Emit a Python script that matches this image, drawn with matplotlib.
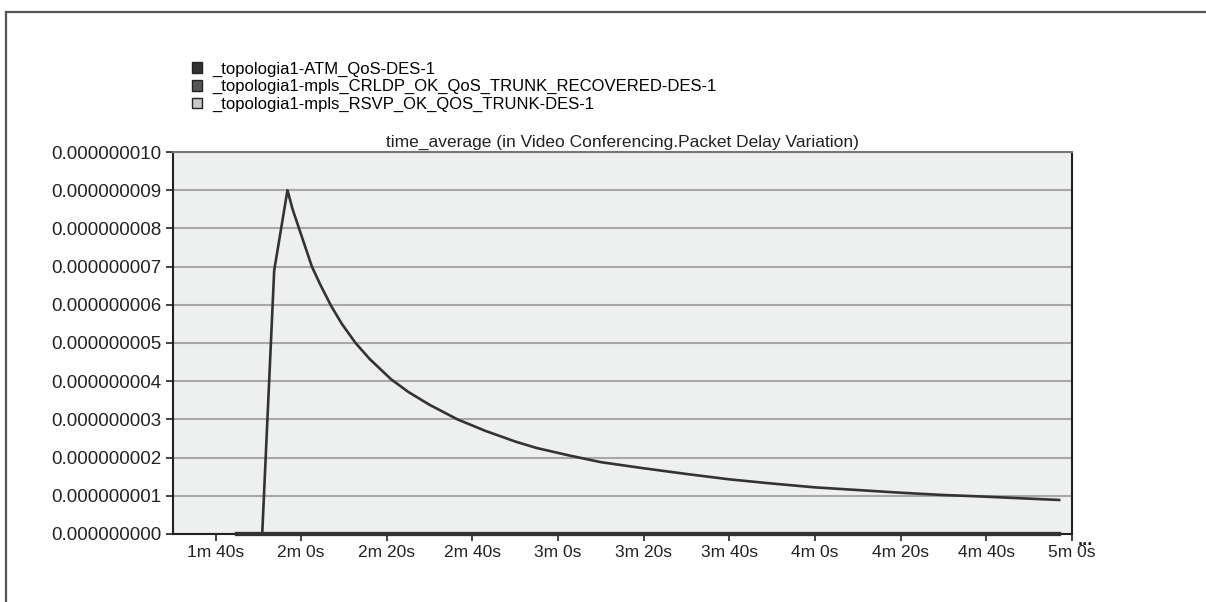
import matplotlib.pyplot as plt
from matplotlib.lines import Line2D
from matplotlib.patches import Patch
import numpy as np

plt.rcParams['font.family'] = ['Liberation Sans', 'DejaVu Sans']

series_names = [
    "_topologia1-ATM_QoS-DES-1",
    "_topologia1-mpls_CRLDP_OK_QoS_TRUNK_RECOVERED-DES-1",
    "_topologia1-mpls_RSVP_OK_QOS_TRUNK-DES-1",
]
series_colors = ["#333333", "#555555", "#c8c8c8"]

# time in seconds, values in units of 1e-9
atm_t = [105, 110.9, 113.7, 116.8, 118, 119.5, 122.5, 124.5, 127, 129.5, 132.7,
         136, 141, 145, 150, 156.5, 163, 170, 175, 182.8, 190, 200,
         210, 220, 230, 240, 250, 260, 270, 277, 287, 297]
atm_v = [0, 0, 6.9, 9.0, 8.5, 8.0, 7.0, 6.52, 5.97, 5.5, 5.0,
         4.58, 4.05, 3.72, 3.38, 3.0, 2.7, 2.42, 2.25, 2.05, 1.88, 1.72,
         1.57, 1.43, 1.32, 1.22, 1.15, 1.08, 1.02, 0.99, 0.94, 0.89]
crldp_t = [105, 297]
crldp_v = [0, 0]
rsvp_t = [105, 297]
rsvp_v = [0, 0]

x_ticks = [100, 120, 140, 160, 180, 200, 220, 240, 260, 280, 300]
x_labels = ["1m 40s", "2m 0s", "2m 20s", "2m 40s", "3m 0s", "3m 20s",
            "3m 40s", "4m 0s", "4m 20s", "4m 40s", "5m 0s"]
y_ticks = np.arange(0, 11) * 1e-9

fig = plt.figure(figsize=(12.06, 6.02), dpi=100)
ax = fig.add_axes([0.1432, 0.1130, 0.7457, 0.6345])
ax.set_facecolor("#eef0ef")

ax.plot(rsvp_t, np.array(rsvp_v) * 1e-9, color="#444444", lw=3, clip_on=False, zorder=3)
ax.plot(crldp_t, np.array(crldp_v) * 1e-9, color="#333333", lw=3, clip_on=False, zorder=3)
ax.plot(atm_t, np.array(atm_v) * 1e-9, color="#333333", lw=1.9, zorder=4)

ax.set_xlim(90, 300)
ax.set_ylim(0, 1e-8)
ax.set_xticks(x_ticks)
ax.set_xticklabels(x_labels)
ax.set_yticks(y_ticks)
ax.set_yticklabels(["%.9f" % v for v in y_ticks])
ax.yaxis.grid(True, color="#a8a8a8", lw=1.5)
ax.set_axisbelow(True)
ax.tick_params(direction="out", length=5, width=1.2, colors="#222222",
               labelsize=12.5, labelcolor="#222222", pad=3)
for lbl in ax.get_yticklabels():
    lbl.set_fontsize(13.5)

for side in ["left", "bottom", "right"]:
    ax.spines[side].set_color("#222222")
    ax.spines[side].set_linewidth(1.5)
ax.spines["top"].set_color("#777777")
ax.spines["top"].set_linewidth(1.5)

ax.set_title("time_average (in Video Conferencing.Packet Delay Variation)",
             fontsize=12.5, color="#222222", pad=4)

# legend
handles = [Patch(facecolor=c, edgecolor="#222222", lw=1) for c in series_colors]
fig.legend(handles, series_names, loc="upper left", bbox_to_anchor=(0.154, 0.909),
           frameon=False, fontsize=12, handlelength=0.6, handleheight=0.6,
           handletextpad=0.6, labelspacing=0.15, borderaxespad=0)

ax.text(1.006, -0.018, "...", transform=ax.transAxes, fontsize=13,
        fontweight="bold", ha="left", va="center", color="#222222")

# outer frame
fig.add_artist(Line2D([6 / 1206, 6 / 1206], [0, 1 - 12 / 602], color="#555555", lw=1.6))
fig.add_artist(Line2D([6 / 1206, 1], [1 - 12 / 602, 1 - 12 / 602], color="#555555", lw=1.6))

fig.savefig("out.png", dpi=100)
